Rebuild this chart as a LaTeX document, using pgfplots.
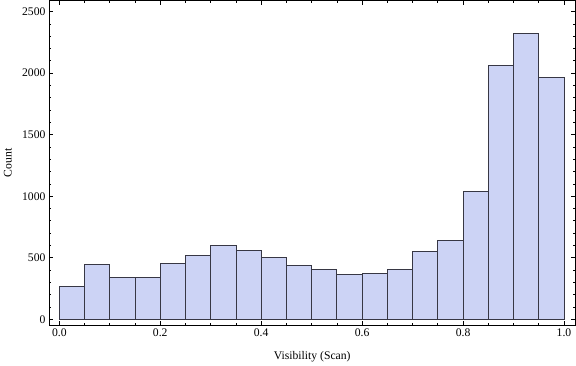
\documentclass[border=0pt]{standalone}
\usepackage{pgfplots}
\pgfplotsset{compat=1.18}
\usepackage{fontspec}
\setmainfont{Liberation Serif}
\definecolor{barfill}{RGB}{204,211,245}
\definecolor{baredge}{RGB}{55,55,68}
\begin{document}
\begin{tikzpicture}
\begin{axis}[name=ax, scale only axis, width=526.5bp, height=325.4bp,
 xmin=-0.0204, xmax=1.0228, ymin=-52, ymax=2592,
 xtick={0,0.2,0.4,0.6,0.8,1}, minor x tick num=3,
 ytick={0,500,1000,1500,2000,2500}, minor y tick num=4,
 tick align=inside, tick pos=both, major tick length=4.5bp, minor tick length=2.5bp,
 xticklabel style={/pgf/number format/.cd, fixed, fixed zerofill, precision=1},
 /pgf/number format/assume math mode=true,
 scaled y ticks=false, yticklabel style={/pgf/number format/1000 sep={}},
 tick label style={font=\fontsize{11.7}{14}\selectfont, black},
 label style={font=\fontsize{11.7}{14}\selectfont},
 xlabel={Visibility (Scan)}, ylabel={Count},
 xlabel style={at={(axis description cs:0.5,-0.096)}, anchor=center},
 ylabel style={at={(axis description cs:-0.078,0.5)}, anchor=center},
 axis line style={line width=0.8bp},
 every tick/.style={black, line width=0.7bp},
]
\addplot[ybar interval, fill=barfill, draw=baredge, line width=0.8bp] coordinates {
 (0.00,268) (0.05,446) (0.10,341) (0.15,341) (0.20,455)
 (0.25,520) (0.30,601) (0.35,560) (0.40,503) (0.45,438)
 (0.50,406) (0.55,365) (0.60,373) (0.65,406) (0.70,552)
 (0.75,644) (0.80,1039) (0.85,2062) (0.90,2322) (0.95,1965)
 (1.00,1965)
};
\end{axis}
\pgfresetboundingbox
\path[use as bounding box] ([shift={(-49bp,-40.3bp)}]ax.south west) rectangle ([shift={(0.5bp,0.3bp)}]ax.north east);
\end{tikzpicture}
\end{document}
